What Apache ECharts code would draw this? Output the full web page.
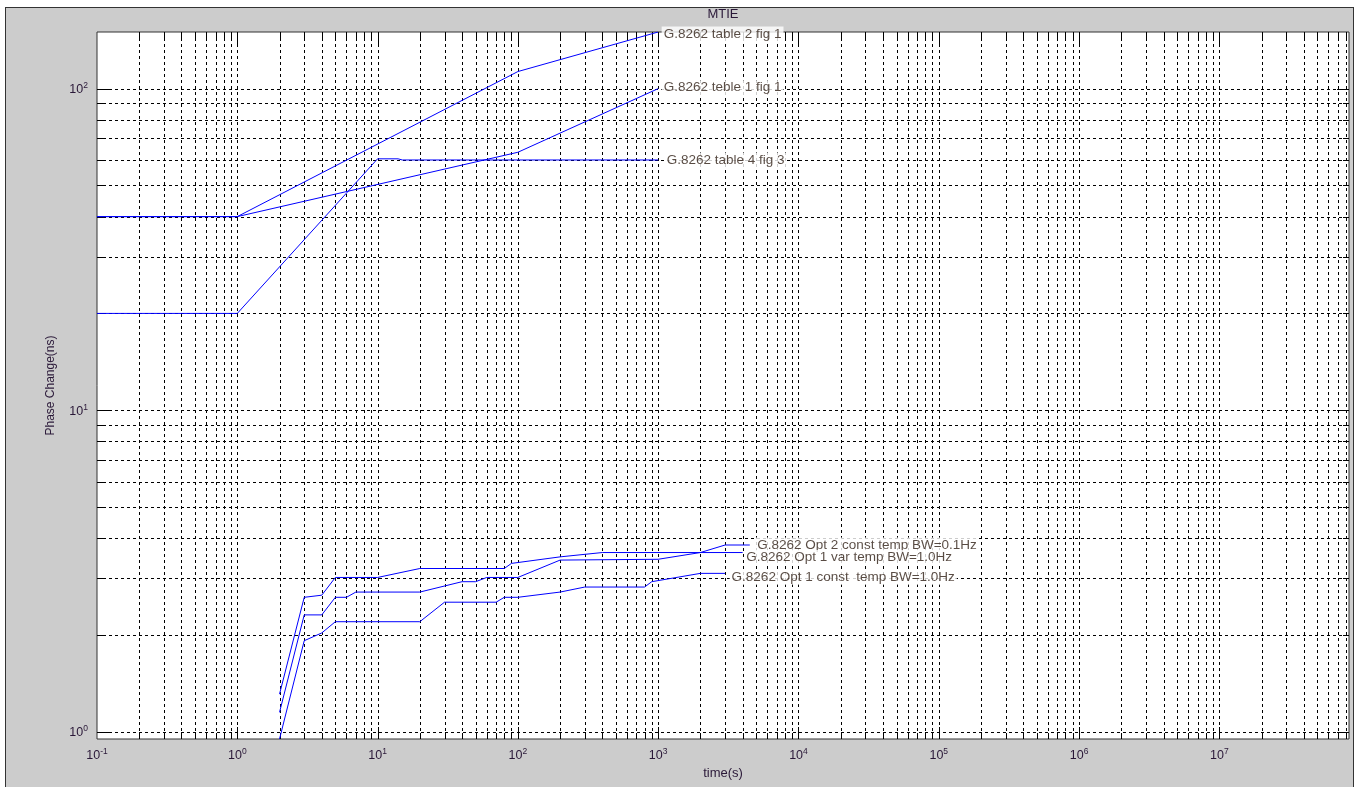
<!DOCTYPE html>
<html>
<head>
<meta charset="utf-8">
<title>MTIE</title>
<script src="https://cdn.jsdelivr.net/npm/echarts@6/dist/echarts.min.js"></script>
<style>
  html, body { margin: 0; padding: 0; background: #fff; }
  #frame { position: absolute; left: 5px; top: 7px; width: 1347px; height: 782px; background: #cccccc; border: 1px solid #333; }
  #chart { position: absolute; left: 0; top: 0; width: 1359px; height: 787px; }
</style>
</head>
<body>
<div id="frame"></div>
<div id="chart"></div>
<script>
// tau (s) / MTIE (ns) pairs
const table2Fig1 = [[0.1, 40], [1, 40], [100, 113], [1000, 150]];
const teble1Fig1 = [[0.1, 40], [1, 40], [100, 63.4], [1000, 100]];
const table4Fig3 = [[0.1, 20], [1, 20], [10, 60.5], [14, 60.5], [15, 60], [1000, 60]];

const opt2ConstTemp = [[2, 1.15], [3, 2.31], [4, 2.31], [5, 2.62], [6, 2.62], [7, 2.72], [20, 2.72],
  [40, 2.93], [50, 2.93], [60, 3.02], [100, 3.02], [200, 3.42], [1000, 3.44], [2000, 3.61],
  [3000, 3.81], [4500, 3.81]];
const opt1VarTemp = [[2, 1.31], [3, 2.62], [4, 2.66], [5, 3.02], [10, 3.02], [20, 3.22], [80, 3.22],
  [90, 3.34], [200, 3.5], [400, 3.61], [4000, 3.61]];
const opt1ConstTemp = [[2, 0.95], [3, 1.92], [4, 2.03], [5, 2.2], [20, 2.2], [30, 2.53], [70, 2.53],
  [80, 2.62], [100, 2.62], [200, 2.72], [300, 2.82], [800, 2.82], [900, 2.93], [2000, 3.11],
  [3000, 3.11]];

const xMin = 0.1, xMax = 8.4e7;
const yMin = 0.95, yMax = 150;
const xDecades = [-1, 0, 1, 2, 3, 4, 5, 6, 7];
const yDecades = [0, 1, 2];

const font = "Liberation Sans";
const axisText = "#2a1838";
const labelText = "#2e1e14";

// matlab-like log grid: a line at every 1..9 x 10^k inside the axes
function gridValues(decades, lo, hi) {
  var out = [];
  decades.forEach(function (d) {
    for (var m = 1; m <= 9; m++) {
      var v = m * Math.pow(10, d);
      if (v > lo * 1.0001 && v < hi * 0.9999) out.push([v, m === 1 ? 1 : 0]);
    }
  });
  return out;
}

var gridData = [];
gridValues(xDecades, xMin, xMax).forEach(function (g) { gridData.push([g[0], yMin, 0, g[1]]); });
gridValues(yDecades, yMin, yMax).forEach(function (g) { gridData.push([xMin, g[0], 1, g[1]]); });

function renderGrid(params, api) {
  var cs = params.coordSys;
  var dir = api.value(2);
  var len = api.value(3) ? 12 : 6;
  var p = api.coord([api.value(0), api.value(1)]);
  var dash = { stroke: "#000", lineWidth: 1, lineDash: [3, 3] };
  var solid = { stroke: "#000", lineWidth: 1 };
  var x0 = cs.x, x1 = cs.x + cs.width, y0 = cs.y, y1 = cs.y + cs.height;
  var kids = [];
  if (dir === 0) {
    var x = Math.round(p[0]) + 0.5;
    kids.push({ type: "line", shape: { x1: x, y1: y0, x2: x, y2: y1 }, style: dash });
    kids.push({ type: "line", shape: { x1: x, y1: y0, x2: x, y2: y0 + len }, style: solid });
    kids.push({ type: "line", shape: { x1: x, y1: y1 - len, x2: x, y2: y1 }, style: solid });
  } else {
    var y = Math.round(p[1]) + 0.5;
    kids.push({ type: "line", shape: { x1: x0, y1: y, x2: x1, y2: y }, style: dash });
    kids.push({ type: "line", shape: { x1: x0, y1: y, x2: x0 + len, y2: y }, style: solid });
    kids.push({ type: "line", shape: { x1: x1 - len, y1: y, x2: x1, y2: y }, style: solid });
  }
  return { type: "group", children: kids };
}

function powerLabel(v) {
  var l = Math.log10(v);
  var e = Math.round(l);
  if (Math.abs(l - e) > 1e-6) return "";
  return "{b|10}{s|" + e + "}";
}

var powerRich = {
  b: { fontFamily: font, fontSize: 12.5, color: axisText, lineHeight: 15, verticalAlign: "bottom" },
  s: { fontFamily: font, fontSize: 8.5, color: axisText, lineHeight: 15, verticalAlign: "top" }
};

function curve(data) {
  return {
    type: "line", data: data, showSymbol: false, symbol: "none", z: 3,
    lineStyle: { color: "#0000ff", width: 1 }, animation: false
  };
}

function endTag(text, data, dx, dy) {
  return {
    type: "scatter", data: [data[data.length - 1]], symbolSize: 1, silent: true, z: 5, clip: false,
    itemStyle: { color: "rgba(0,0,0,0)" }, animation: false,
    label: {
      show: true, position: "right", distance: 3, offset: [dx, dy], formatter: text,
      backgroundColor: "#fff", padding: [1, 2, 0, 2],
      fontFamily: font, fontSize: 13.5, color: labelText
    }
  };
}

var chart = echarts.init(document.getElementById("chart"));
chart.setOption({
  animation: false,
  grid: { left: 97, top: 32, width: 1252, height: 707, show: true, backgroundColor: "#fff", borderColor: "#333", borderWidth: 1 },
  graphic: [{
    type: "text", x: 723, y: 14, silent: true,
    style: { text: "MTIE", font: "13px " + font, fill: axisText, textAlign: "center", textVerticalAlign: "middle" }
  }],
  xAxis: {
    type: "log", logBase: 10, min: xMin, max: xMax, splitNumber: 10,
    axisLine: { show: false }, axisTick: { show: false }, splitLine: { show: false },
    axisLabel: { formatter: powerLabel, rich: powerRich, margin: 8, showMaxLabel: false },
    name: "time(s)", nameLocation: "middle", nameGap: 28,
    nameTextStyle: { fontFamily: font, fontSize: 13, color: axisText }
  },
  yAxis: {
    type: "log", logBase: 10, min: yMin, max: yMax, splitNumber: 10,
    axisLine: { show: false }, axisTick: { show: false }, splitLine: { show: false },
    axisLabel: { formatter: powerLabel, rich: powerRich, margin: 9, showMaxLabel: false, showMinLabel: false },
    name: "Phase Change(ns)", nameLocation: "middle", nameGap: 40, nameRotate: 90,
    nameTextStyle: { fontFamily: font, fontSize: 12, color: axisText }
  },
  series: [
    {
      type: "custom", renderItem: renderGrid, data: gridData, dimensions: ["x", "y", "dir", "major"],
      encode: { x: 0, y: 1 }, silent: true, z: 1, clip: false, animation: false
    },
    curve(table2Fig1), curve(teble1Fig1), curve(table4Fig3),
    curve(opt2ConstTemp), curve(opt1VarTemp), curve(opt1ConstTemp),
    endTag("G.8262 table 2 fig 1", table2Fig1, 0, 2),
    endTag("G.8262 teble 1 fig 1", teble1Fig1, 0, -1),
    endTag("G.8262 table 4 fig 3", table4Fig3, 3, 0),
    endTag("G.8262 Opt 2 const temp BW=0.1Hz", opt2ConstTemp, 2, 0),
    endTag("G.8262 Opt 1 var temp BW=1.0Hz", opt1VarTemp, -2, 5),
    endTag("G.8262 Opt 1 const  temp BW=1.0Hz", opt1ConstTemp, 1, 4)
  ]
});
</script>
</body>
</html>
